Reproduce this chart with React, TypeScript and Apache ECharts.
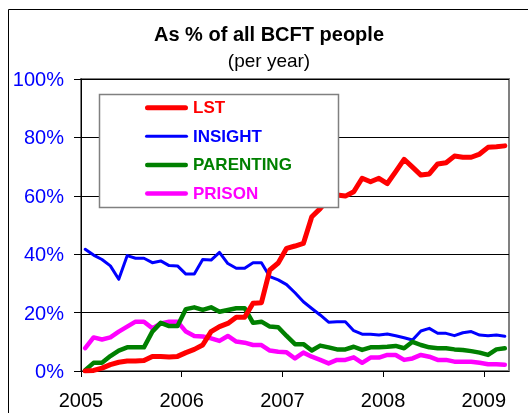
import { useEffect, useRef } from 'react';
import * as echarts from 'echarts';

const seriesNames = ['LST', 'INSIGHT', 'PARENTING', 'PRISON'];
const seriesColors = ['#FF0000', '#0000FF', '#008000', '#FF00FF'];
const years = [2005, 2006, 2007, 2008, 2009];

// monthly shares (%), Jan 2005 .. Mar 2009
const lst = [0, 0.2, 1.0, 2.2, 3, 3.4, 3.4, 3.6, 5, 5, 4.8, 5, 6.3, 7.4, 8.9, 13.5, 15.2, 16.3, 18.4, 18.4, 23.2, 23.4, 34.6, 37, 42, 42.8, 43.7, 52.8, 55.6, 59, 60.3, 59.9, 61.4, 66, 64.8, 66, 64.2, 68.3, 72.5, 69.8, 67.1, 67.5, 70.9, 71.3, 73.6, 73.2, 73.2, 74.3, 76.6, 76.8, 77.1];
const insight = [41.7, 39.7, 38.2, 36, 31.4, 39.5, 38.6, 38.6, 37.1, 37.7, 36.1, 36, 33.2, 33.2, 38.2, 38, 40.6, 36.8, 35.2, 35.2, 37.1, 37.1, 32.3, 31.2, 29.6, 26.8, 23.7, 21.4, 19.2, 16.7, 16.9, 16.9, 13.8, 12.6, 12.6, 12.3, 12.7, 12.1, 11.4, 10.6, 13.7, 14.6, 12.9, 12.9, 12.1, 13.1, 13.5, 12.3, 12.1, 12.3, 11.9];
const parenting = [0.3, 2.8, 2.8, 5.1, 7, 8.1, 8.1, 8.1, 13.5, 16.5, 15.4, 15.4, 21.2, 21.8, 20.9, 21.8, 20.3, 20.9, 21.5, 21.5, 16.5, 16.9, 15.2, 15, 12, 9.2, 9.2, 7, 8.7, 8.1, 7.4, 7.4, 8.3, 7.2, 8.1, 8.1, 8.3, 8.6, 7.8, 10, 8.9, 8.1, 7.8, 7.8, 7.4, 7.2, 6.8, 6.3, 5.5, 7.4, 7.8];
const prison = [7.8, 11.5, 10.8, 11.5, 13.5, 15.2, 16.9, 16.9, 14.6, 16.3, 16.9, 16.9, 13.5, 12, 11.8, 11.2, 10.3, 12, 10.1, 9.7, 8.9, 8.9, 7, 6.6, 6.4, 4.3, 6.3, 4.9, 3.8, 2.6, 3.8, 3.8, 4.7, 2.8, 4.6, 4.6, 5.5, 5.5, 3.8, 4.3, 5.5, 4.9, 3.8, 3.8, 3.2, 3.2, 3.2, 2.8, 2.3, 2.3, 2.1];

const seriesValues = [lst, insight, parenting, prison];
const lineWidths = [5, 3, 4.5, 4.5];
// mid-month positions in fractional years
const monthPos = lst.map((_, i) => 2005 + (i + 0.5) / 12);

const FONT = '"Liberation Sans", Arial, sans-serif';

function roundBar(w: number, h: number) {
  const r = h / 2;
  return `path://M${r},0H${w - r}A${r},${r} 0 0 1 ${w - r},${h}H${r}A${r},${r} 0 0 1 ${r},0Z`;
}

export default function App() {
  const ref = useRef<HTMLDivElement>(null);
  useEffect(() => {
    const chart = echarts.init(ref.current!, null, { renderer: 'svg' });
    const drawOrder = [1, 3, 2, 0];
    chart.setOption({
      animation: false,
      textStyle: { fontFamily: FONT },
      grid: {
        left: 81, right: 19, top: 79, bottom: 42,
        show: true, borderColor: '#808080', borderWidth: 2, backgroundColor: 'transparent',
      },
      xAxis: {
        type: 'value', min: 2005, max: 2009.25,
        axisLine: { show: true, lineStyle: { color: '#000', width: 1 } },
        axisTick: { show: true, length: 6, customValues: years, lineStyle: { color: '#000' } },
        axisLabel: {
          customValues: years, formatter: (v: number) => String(v),
          color: '#000', fontSize: 20, margin: 19, fontFamily: FONT,
        },
        splitLine: { show: false },
      },
      yAxis: {
        type: 'value', min: 0, max: 100, interval: 20,
        axisLine: { show: true, lineStyle: { color: '#000', width: 1 } },
        axisTick: { show: true, length: 7, lineStyle: { color: '#000' } },
        axisLabel: { formatter: '{value}%', color: '#0000FF', fontSize: 20, margin: 17, fontFamily: FONT },
        splitLine: { show: true, lineStyle: { color: '#000', width: 1 } },
      },
      legend: {
        orient: 'vertical', left: 145, top: 97.7, padding: 0, z: 10,
        itemWidth: 43, itemHeight: 14, itemGap: 8.6,
        symbolKeepAspect: true,
        data: seriesNames.map((n, i) => ({
          name: n,
          icon: roundBar(43, lineWidths[i]),
          itemStyle: { color: seriesColors[i], borderWidth: 0 },
          textStyle: { color: seriesColors[i] },
        })),
        textStyle: { fontSize: 17, fontWeight: 'bold', lineHeight: 20, fontFamily: FONT },
      },
      graphic: [
        {
          type: 'rect', z: 0, silent: true,
          shape: { x: 8.5, y: 9.5, width: 700, height: 600 },
          style: { fill: 'none', stroke: '#000', lineWidth: 1 },
        },
        {
          type: 'text', x: 269, y: 24, z: 10,
          style: {
            text: 'As % of all BCFT people', fontSize: 20, fontWeight: 'bold', fontFamily: FONT,
            fill: '#000', align: 'center', textAlign: 'center', verticalAlign: 'top',
          },
        },
        {
          type: 'text', x: 269, y: 51, z: 10,
          style: {
            text: '(per year)', fontSize: 19, fontFamily: FONT,
            fill: '#000', align: 'center', textAlign: 'center', verticalAlign: 'top',
          },
        },
        {
          type: 'rect', z: 5, silent: true,
          shape: { x: 99.5, y: 94.5, width: 239, height: 113 },
          style: { fill: '#fff', stroke: '#808080', lineWidth: 1.5 },
        },
      ],
      series: drawOrder.map((k) => ({
        name: seriesNames[k],
        type: 'line',
        symbol: 'none',
        showSymbol: false,
        color: seriesColors[k],
        lineStyle: { width: lineWidths[k], color: seriesColors[k], cap: 'round', join: 'round' },
        data: seriesValues[k].map((v, i) => [monthPos[i], v]),
      })),
    });
    return () => chart.dispose();
  }, []);
  return <div ref={ref} style={{ position: 'fixed', left: 0, top: 0, width: 528, height: 413 }} />;
}
